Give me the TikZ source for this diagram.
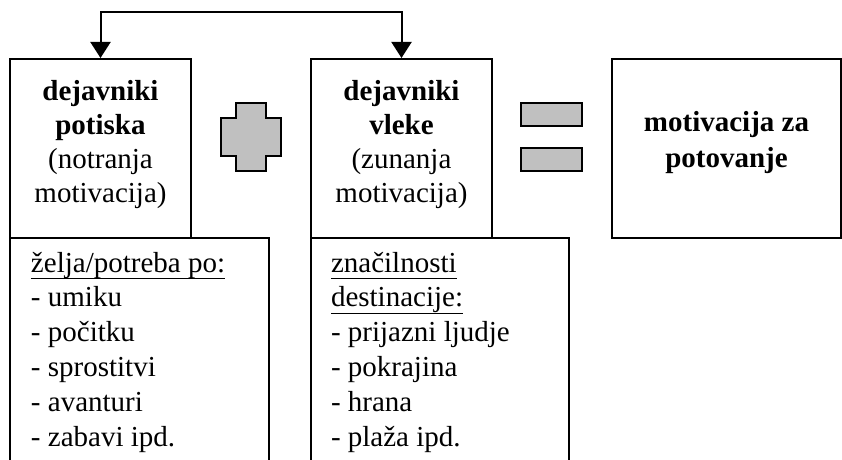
\documentclass[tikz,border=0pt]{standalone}
\usepackage{fontspec}
\setmainfont{Liberation Serif}
\usepackage{tikz}
\usetikzlibrary{positioning, arrows.meta}
\usepackage{xcolor}
\definecolor{signgray}{RGB}{192,192,192}
\newcommand{\boxfont}{\fontsize{14.5pt}{17pt}\selectfont}
\newcommand{\listfont}{\fontsize{14.5pt}{17.4pt}\selectfont}
\newcommand{\wordul}[1]{\underline{\smash{#1}\rule[-1.8pt]{0pt}{11.8pt}}}

\begin{document}
\begin{tikzpicture}[x=0.5pt, y=-0.5pt, line width=1pt, font=\boxfont,
		>={Triangle[length=8pt, width=10pt]},
		box/.style={draw, inner sep=0pt, minimum width=#1, minimum height=89.5pt},
		frame/.style={inner sep=0pt, minimum width=#1, minimum height=111pt},
		title/.style={align=center, inner sep=0pt},
		items/.style={align=left, inner sep=0pt, font=\listfont},
		sign/.style={draw, fill=signgray, inner sep=0pt, minimum width=30.5pt, minimum height=11.5pt}]
		\useasboundingbox (0,0) rectangle (842,460);
		
		% lower frames, open at the bottom
		\node[frame=128.5pt, anchor=north west] (pushlist) at (10,238) {};
		\node[frame=128pt, anchor=north west] (pulllist) at (311,238) {};
		\draw (pushlist.south west) -- (pushlist.north west) -- (pushlist.north east) -- (pushlist.south east);
		\draw (pulllist.south west) -- (pulllist.north west) -- (pulllist.north east) -- (pulllist.south east);
		
		% top row
		\node[box=90.5pt] (push) at (100.5,148.5) {};
		\node[box=90.5pt] (pull) at (401.5,148.5) {};
		\node[box=114.5pt] (goal) at (726.5,148.5) {};
		
		\node[title, below=10.5pt of push.north] (pushtitle) {\textbf{dejavniki}\\\textbf{potiska}\\(notranja\\motivacija)};
		\node[title, below=10.5pt of pull.north] (pulltitle) {\textbf{dejavniki}\\\textbf{vleke}\\(zunanja\\motivacija)};
		\node[title, below=26pt of goal.north, font=\fontsize{14.5pt}{18pt}\selectfont\bfseries] (goaltitle) {motivacija za\\potovanje};
		
		\node[items, below right=6.5pt and 10pt of pushlist.north west] (pushitems) {\wordul{želja/potreba po:}\\- umiku\\- počitku\\- sprostitvi\\- avanturi\\- zabavi ipd.};
		\node[items, below right=6.5pt and 9.5pt of pulllist.north west] (pullitems) {\wordul{značilnosti}\\\wordul{destinacije:}\\- prijazni ljudje\\- pokrajina\\- hrana\\- plaža ipd.};
		
		% plus and equals
		\draw[fill=signgray] (236,103) -- (266,103) -- (266,118) -- (281,118) -- (281,156) -- (266,156) -- (266,171) -- (236,171) -- (236,156) -- (221,156) -- (221,118) -- (236,118) -- cycle;
		\node[sign] (eqtop) at (551.5,114.5) {};
		\node[sign] (eqbot) at (551.5,159.5) {};
		
		\draw[<->] (push.north) -- ++(0,-46) -| (pull.north);
		
	\end{tikzpicture}
\end{document}
